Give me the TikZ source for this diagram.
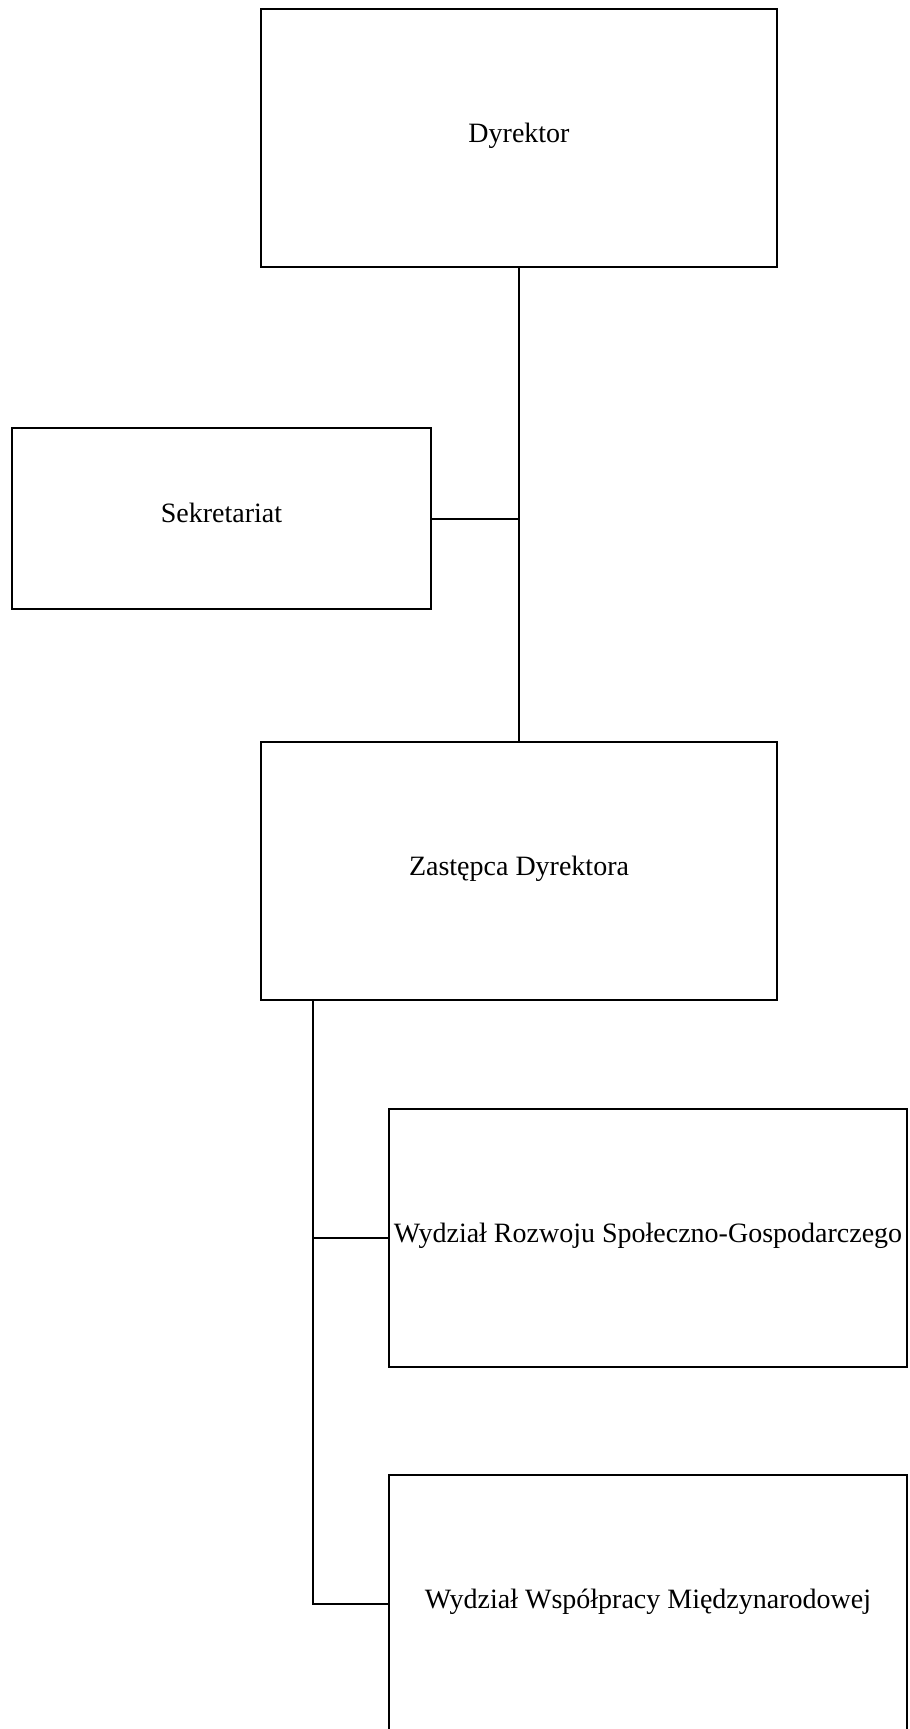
\documentclass[tikz,border=0pt]{standalone}
\usepackage{fontspec}
\setmainfont{Liberation Serif}
\usetikzlibrary{positioning}
\begin{document}
\begin{tikzpicture}[x=0.75pt,y=-0.75pt,line width=1.5pt,
  unit/.style={draw,rectangle,inner sep=0pt,minimum width=516*0.75pt,minimum height=258*0.75pt,
    text height=0.66em,text depth=0pt,font=\fontsize{21}{26}\selectfont},
  dept/.style={unit,minimum width=518*0.75pt}]
\useasboundingbox (0,0) rectangle (910,1729);
\node[unit] (dyr) at (519,138) {Dyrektor};
\node[unit,minimum width=419*0.75pt,minimum height=181*0.75pt] (sek) at (221.5,518.5) {Sekretariat};
\node[unit] (zast) at (519,871) {Zastępca Dyrektora};
\node[dept] (rozw) at (648,1238) {Wydział Rozwoju Społeczno-Gospodarczego};
\node[dept] (wspol) at (648,1604) {Wydział Współpracy Międzynarodowej};
\coordinate (branch) at (313,1000);
\draw (dyr.south) -- (zast.north);
\draw (sek.east) -- (sek.east -| dyr.south);
\draw (branch) |- (rozw.west);
\draw (branch) |- (wspol.west);
\end{tikzpicture}
\end{document}
